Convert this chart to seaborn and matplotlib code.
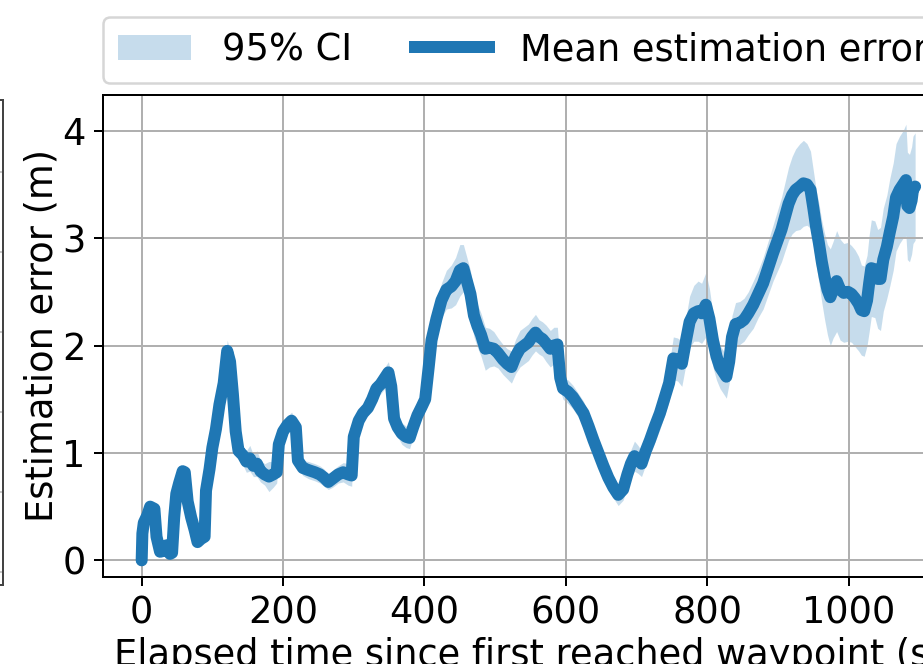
import matplotlib
matplotlib.use("Agg")
import matplotlib.pyplot as plt
import seaborn as sns
import numpy as np
import pandas as pd
from matplotlib.patches import Patch
from matplotlib.lines import Line2D

# ---- data ----
time_s = [0, 1, 3, 8, 12, 18, 21, 26, 32, 35, 40, 43, 46, 49, 53, 58, 61, 65, 70, 75,
          79, 84, 89, 91, 96, 100, 105, 110, 116, 121, 125, 129, 133, 137, 143, 148, 153, 158, 163, 168,
          174, 180, 186, 191, 194, 200, 206, 212, 218, 221, 228, 236, 245, 252, 258, 264, 270, 278, 285, 292,
          297, 300, 307, 313, 320, 326, 332, 338, 344, 349, 353, 357, 362, 368, 374, 379, 384, 390, 396, 401,
          406, 410, 417, 424, 431, 438, 444, 450, 455, 460, 465, 470, 475, 480, 486, 492, 498, 504, 511, 517,
          523, 529, 535, 541, 547, 552, 557, 562, 567, 572, 578, 583, 588, 592, 596, 603, 610, 617, 625, 632,
          639, 646, 653, 660, 667, 674, 681, 687, 692, 697, 702, 707, 713, 719, 726, 733, 740, 746, 752, 758,
          764, 770, 775, 781, 787, 792, 798, 803, 808, 813, 818, 823, 827, 831, 835, 840, 846, 852, 858, 865,
          872, 879, 886, 893, 899, 905, 910, 915, 920, 925, 931, 936, 941, 946, 950, 954, 958, 962, 966, 970,
          974, 978, 983, 988, 993, 999, 1004, 1009, 1014, 1018, 1022, 1026, 1029, 1032, 1037, 1041, 1045, 1049, 1054, 1058,
          1063, 1067, 1072, 1077, 1081, 1083, 1086, 1089, 1091, 1094]
mean_err = [0.0, 0.25, 0.35, 0.42, 0.50, 0.48, 0.22, 0.08, 0.09, 0.14, 0.06, 0.07, 0.40, 0.62, 0.72, 0.83, 0.82, 0.55, 0.40, 0.28,
            0.17, 0.20, 0.22, 0.65, 0.85, 1.05, 1.22, 1.45, 1.65, 1.95, 1.85, 1.55, 1.20, 1.02, 0.98, 0.92, 0.95, 0.88, 0.90, 0.83,
            0.80, 0.78, 0.80, 0.82, 1.08, 1.20, 1.26, 1.30, 1.24, 0.93, 0.86, 0.84, 0.82, 0.80, 0.77, 0.73, 0.76, 0.80, 0.82, 0.80,
            0.79, 1.15, 1.30, 1.37, 1.42, 1.50, 1.60, 1.64, 1.70, 1.75, 1.62, 1.32, 1.24, 1.18, 1.15, 1.14, 1.24, 1.35, 1.43, 1.50,
            1.80, 2.05, 2.25, 2.42, 2.52, 2.55, 2.60, 2.70, 2.72, 2.60, 2.48, 2.28, 2.18, 2.10, 1.97, 1.98, 1.97, 1.93, 1.87, 1.83,
            1.80, 1.90, 1.97, 2.00, 2.03, 2.08, 2.12, 2.08, 2.06, 2.02, 1.97, 2.00, 2.01, 1.70, 1.60, 1.57, 1.52, 1.45, 1.37, 1.25,
            1.12, 1.00, 0.88, 0.77, 0.68, 0.61, 0.66, 0.80, 0.90, 0.97, 0.94, 0.90, 1.02, 1.12, 1.25, 1.37, 1.52, 1.65, 1.88, 1.87,
            1.83, 2.05, 2.22, 2.30, 2.32, 2.30, 2.38, 2.25, 2.05, 1.90, 1.80, 1.75, 1.71, 1.85, 2.08, 2.20, 2.21, 2.24, 2.30, 2.38,
            2.48, 2.58, 2.72, 2.86, 2.97, 3.08, 3.20, 3.32, 3.40, 3.45, 3.48, 3.51, 3.50, 3.45, 3.28, 3.10, 2.95, 2.78, 2.64, 2.52,
            2.45, 2.52, 2.60, 2.52, 2.49, 2.50, 2.48, 2.44, 2.39, 2.33, 2.32, 2.42, 2.58, 2.72, 2.71, 2.62, 2.62, 2.80, 2.92, 3.05,
            3.20, 3.38, 3.45, 3.50, 3.54, 3.30, 3.28, 3.35, 3.45, 3.48]
ci_half = [0.0, 0.02, 0.03, 0.03, 0.03, 0.03, 0.02, 0.02, 0.02, 0.02, 0.02, 0.02, 0.03, 0.03, 0.04, 0.04, 0.04, 0.04, 0.04, 0.04,
           0.03, 0.03, 0.03, 0.05, 0.05, 0.06, 0.06, 0.07, 0.08, 0.10, 0.10, 0.09, 0.08, 0.08, 0.09, 0.10, 0.12, 0.10, 0.12, 0.10,
           0.10, 0.14, 0.12, 0.10, 0.08, 0.08, 0.08, 0.08, 0.07, 0.07, 0.07, 0.08, 0.08, 0.08, 0.08, 0.07, 0.08, 0.08, 0.09, 0.10,
           0.10, 0.08, 0.08, 0.07, 0.07, 0.08, 0.09, 0.09, 0.10, 0.10, 0.09, 0.09, 0.09, 0.10, 0.10, 0.10, 0.09, 0.09, 0.09, 0.10,
           0.12, 0.13, 0.15, 0.16, 0.18, 0.20, 0.22, 0.24, 0.22, 0.22, 0.22, 0.20, 0.20, 0.20, 0.20, 0.18, 0.16, 0.14, 0.14, 0.14,
           0.15, 0.16, 0.17, 0.17, 0.17, 0.17, 0.17, 0.16, 0.16, 0.17, 0.17, 0.17, 0.16, 0.12, 0.10, 0.11, 0.11, 0.11, 0.11, 0.11,
           0.10, 0.10, 0.10, 0.10, 0.10, 0.10, 0.10, 0.11, 0.13, 0.14, 0.13, 0.12, 0.13, 0.14, 0.15, 0.15, 0.16, 0.17, 0.20, 0.20,
           0.21, 0.22, 0.24, 0.26, 0.28, 0.28, 0.30, 0.28, 0.25, 0.22, 0.20, 0.20, 0.20, 0.20, 0.20, 0.20, 0.20, 0.20, 0.20, 0.22,
           0.22, 0.24, 0.25, 0.26, 0.28, 0.30, 0.32, 0.34, 0.36, 0.38, 0.40, 0.40, 0.38, 0.36, 0.35, 0.35, 0.37, 0.38, 0.40, 0.42,
           0.45, 0.45, 0.47, 0.47, 0.46, 0.46, 0.45, 0.45, 0.44, 0.42, 0.42, 0.42, 0.45, 0.45, 0.45, 0.46, 0.48, 0.48, 0.48, 0.50,
           0.50, 0.50, 0.50, 0.50, 0.52, 0.50, 0.50, 0.50, 0.50, 0.50]

x_ticks = [0, 200, 400, 600, 800, 1000]
y_ticks = [0, 1, 2, 3, 4]
legend_labels = ["95% CI", "Mean estimation error"]
x_label = "Elapsed time since first reached waypoint (s)"
y_label = "Estimation error (m)"

BLUE = "#1f77b4"
W, H, DPI = 923, 664, 180
plt.rcParams["font.family"] = ["DejaVu Sans"]
plt.rcParams["font.size"] = 14.7

df = pd.DataFrame({"t": time_s, "mean": mean_err, "half": ci_half})
df["lo"] = df["mean"] - df["half"]
df["hi"] = df["mean"] + df["half"]

fig = plt.figure(figsize=(W / DPI, H / DPI), dpi=DPI)

# neighbouring (cropped) panel at the very left edge
ax0 = fig.add_axes([(2.5 - 200) / W, 1 - 585 / H, 200 / W, (585 - 100) / H])
ax0.set_ylim(0, 485)
ax0.set_xlim(0, 1)
ax0.set_yticks([13, 93, 173, 253, 333, 413])
ax0.set_xticks([])
ax0.tick_params(left=False, labelleft=False)
ax0.grid(True, axis="y", color="#c8c8c8")
for s in ax0.spines.values():
    s.set_color("#444444")

# main panel (extends past the right edge of the canvas, as in the crop)
left, right, top, bottom = 103, 953.8, 94.5, 577
ax = fig.add_axes([left / W, 1 - bottom / H, (right - left) / W, (bottom - top) / H])
ax.fill_between(df["t"], df["lo"], df["hi"], color=BLUE, alpha=0.25, linewidth=0)
sns.lineplot(data=df, x="t", y="mean", ax=ax, color=BLUE, linewidth=4.8,
             errorbar=None, sort=True, solid_capstyle="round")
ax.set_xlim(-54.7, 1148.7)
ax.set_ylim(-0.155, 4.337)
ax.set_xticks(x_ticks)
ax.set_yticks(y_ticks)
ax.grid(True)
ax.set_xlabel(x_label, labelpad=2)
ax.set_ylabel(y_label, labelpad=0.5)

handles = [Patch(facecolor=BLUE, alpha=0.25, edgecolor="none"),
           Line2D([], [], color=BLUE, linewidth=4.8)]
ax.legend(handles, legend_labels, loc="lower left",
          bbox_to_anchor=(0, 1 + 11.5 / (bottom - top)), borderaxespad=0,
          ncol=2, handletextpad=0.85, columnspacing=1.7)

fig.savefig("out.png", dpi=DPI)
